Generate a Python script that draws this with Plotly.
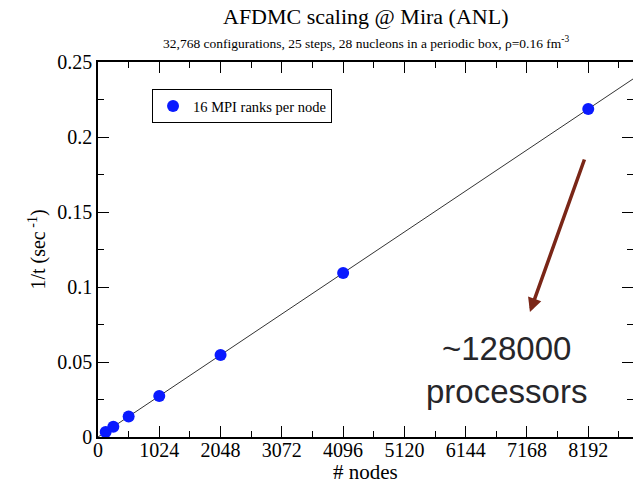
import numpy as np
import plotly.graph_objects as go

# ---- data ----
nodes = [128, 256, 512, 1024, 2048, 4096, 8192]
inv_time = [0.0034, 0.0068, 0.0137, 0.0274, 0.0546, 0.1094, 0.2187]
x_ticks = [0, 1024, 2048, 3072, 4096, 5120, 6144, 7168, 8192]
x_max = 8940
y_max = 0.25

series_name = "16 MPI ranks per node"
title_text = "AFDMC scaling @ Mira (ANL)"
subtitle_text = "32,768 configurations, 25 steps, 28 nucleons in a periodic box, ρ=0.16 fm<sup>-3</sup>"
x_title = "# nodes"
y_title = "1/t (sec<sup> -1</sup>)"
note_text = "~128000<br>processors"

# linear fit through the origin
xa = np.array(nodes, dtype=float)
ya = np.array(inv_time, dtype=float)
slope = float((xa * ya).sum() / (xa * xa).sum())
fit_x = [0, x_max]
fit_y = [0, slope * x_max]

serif = "Liberation Serif, Times New Roman, serif"

fig = go.Figure()
fig.add_trace(go.Scatter(x=fit_x, y=fit_y, mode="lines",
                         line=dict(color="#333333", width=1), showlegend=False,
                         hoverinfo="skip"))
fig.add_trace(go.Scatter(x=nodes, y=inv_time, mode="markers", name=series_name,
                         marker=dict(color="#0a1aff", size=12)))

axis_common = dict(showline=True, linecolor="black", linewidth=1.5, mirror="allticks",
                   ticks="inside", ticklen=11, tickwidth=1, tickcolor="black",
                   showgrid=False, zeroline=False, automargin=False,
                   tickfont=dict(family=serif, size=20, color="black"))

fig.update_xaxes(range=[0, x_max], tickvals=x_ticks, ticktext=[str(v) for v in x_ticks],
                 minor=dict(ticks="inside", ticklen=6, tickwidth=1, tickcolor="black",
                            tickvals=[v + 512 for v in x_ticks]),
                 ticklabelstandoff=-6,
                 **axis_common)
fig.update_yaxes(range=[0, y_max], dtick=0.05,
                 minor=dict(ticks="inside", ticklen=6, tickwidth=1, tickcolor="black",
                            dtick=0.025),
                 title=dict(text=y_title, font=dict(family=serif, size=20, color="black"),
                            standoff=6),
                 **axis_common)

# x-axis title (placed below the tick labels)
fig.add_annotation(text=x_title, xref="paper", yref="paper", x=0.5, y=(437 - 472) / 375,
                   xanchor="center", yanchor="middle", showarrow=False,
                   font=dict(family=serif, size=21, color="black"))

fig.add_annotation(text=title_text, xref="paper", yref="paper", x=0.5, y=(437 - 17) / 375,
                   xanchor="center", yanchor="middle", showarrow=False,
                   font=dict(family=serif, size=22, color="black"))
fig.add_annotation(text=subtitle_text, xref="paper", yref="paper", x=0.5, y=(437 - 42) / 375,
                   xanchor="center", yanchor="middle", showarrow=False,
                   font=dict(family=serif, size=13.5, color="black"))

# arrow
fig.add_annotation(x=7218, y=0.0833, ax=8137, ay=0.186, xref="x", yref="y",
                   axref="x", ayref="y", text="", showarrow=True,
                   arrowhead=2, arrowsize=0.8, arrowwidth=3.5, arrowcolor="#7a2617")
fig.add_annotation(text=note_text, xref="x", yref="y", x=6834, y=0.045,
                   xanchor="center", yanchor="middle", showarrow=False,
                   font=dict(family="Liberation Sans, Arial, sans-serif", size=33, color="#26262a"))

fig.update_layout(
    width=633, height=484,
    margin=dict(l=98, r=0, t=62, b=47),
    paper_bgcolor="white", plot_bgcolor="white",
    showlegend=True,
    legend=dict(x=0.101, y=(437 - 89) / 375, xanchor="left", yanchor="top",
                bgcolor="white", bordercolor="black", borderwidth=1,
                font=dict(family=serif, size=14.5, color="black")),
)

fig.write_html("out.html")
